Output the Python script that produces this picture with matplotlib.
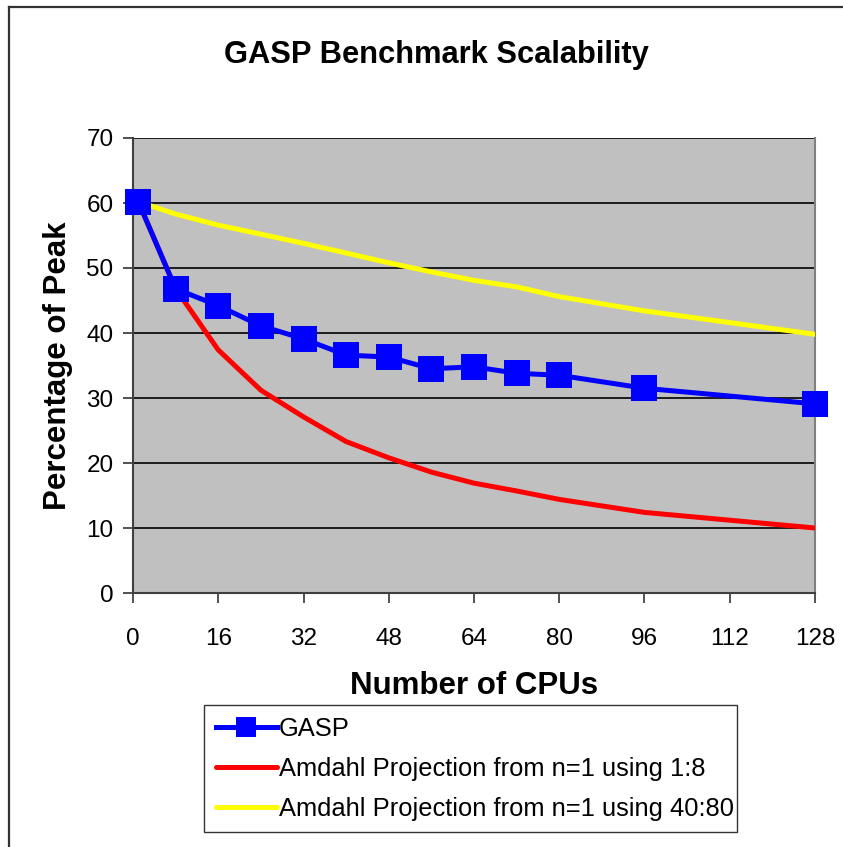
import matplotlib
matplotlib.use("Agg")
import matplotlib.pyplot as plt
from matplotlib.lines import Line2D

plt.rcParams['font.family'] = ['Liberation Sans', 'DejaVu Sans']

cpus = [1, 8, 16, 24, 32, 40, 48, 56, 64, 72, 80, 96, 128]
gasp = [60.2, 46.8, 44.2, 41.1, 39.1, 36.6, 36.3, 34.5, 34.8, 33.8, 33.5, 31.5, 29.1]
amdahl_1_8 = [60.2, 46.8, 37.4, 31.2, 27.1, 23.3, 20.8, 18.6, 16.9, 15.7, 14.4, 12.4, 10.0]
amdahl_40_80 = [60.2, 58.3, 56.6, 55.2, 53.8, 52.3, 50.8, 49.4, 48.1, 47.1, 45.6, 43.4, 39.8]
xticks = [0, 16, 32, 48, 64, 80, 96, 112, 128]
yticks = [0, 10, 20, 30, 40, 50, 60, 70]

W, H = 843, 847
fig = plt.figure(figsize=(W / 100, H / 100), dpi=100)
ax = fig.add_axes([133 / W, 1 - 593 / H, (815 - 133) / W, (593 - 138) / H])
ax.set_facecolor('#C0C0C0')

l1, = ax.plot(cpus, gasp, color='#0000FF', lw=3.6, marker='s', markersize=18.5,
              markeredgewidth=0, zorder=5, label='GASP', clip_on=False)
l2, = ax.plot(cpus, amdahl_1_8, color='#FF0000', lw=3.6, zorder=4,
              label='Amdahl Projection from n=1 using 1:8', solid_capstyle='round')
l3, = ax.plot(cpus, amdahl_40_80, color='#FFFF00', lw=3.6, zorder=3,
              label='Amdahl Projection from n=1 using 40:80', solid_capstyle='round')

ax.set_xlim(0, 128)
ax.set_ylim(0, 70)
ax.set_xticks(xticks)
ax.set_yticks(yticks)
ax.yaxis.grid(True, color='black', lw=1.2)
ax.set_axisbelow(True)
ax.tick_params(axis='both', labelsize=17.5, direction='out', length=7, width=1.2,
               colors='#333333', labelcolor='black')
ax.tick_params(axis='x', pad=18)
ax.tick_params(axis='y', pad=7)
for s in ['left', 'bottom']:
    ax.spines[s].set_color('#404040')
    ax.spines[s].set_linewidth(1.5)
ax.spines['top'].set_visible(False)
ax.spines['right'].set_color('#808080')
ax.spines['right'].set_linewidth(1.5)

ax.set_xlabel('Number of CPUs', fontsize=22.5, fontweight='bold', labelpad=15)
ax.set_ylabel('Percentage of Peak', fontsize=22.5, fontweight='bold', labelpad=10)
fig.text(436 / W, 1 - 55 / H, 'GASP Benchmark Scalability', ha='center', va='center',
         fontsize=22.2, fontweight='bold')

leg = fig.legend(handles=[l1, l2, l3], loc='lower left',
                 bbox_to_anchor=(204 / W, 1 - 832 / H, (737 - 204) / W, 0.15), mode='expand',
                 fontsize=18.4, frameon=True, fancybox=False, borderaxespad=0,
                 handlelength=2.4, handletextpad=0.08, labelspacing=0.62,
                 borderpad=0.45, markerscale=0.8)
leg._legend_box.align = 'left'
leg.get_frame().set_edgecolor('black')
leg.get_frame().set_linewidth(1.0)

# figure border (left and top only)
fig.add_artist(Line2D([9 / W, 9 / W], [0, 1 - 7 / H], transform=fig.transFigure,
                      color='#333333', lw=1.6))
fig.add_artist(Line2D([9 / W, 1], [1 - 7 / H, 1 - 7 / H], transform=fig.transFigure,
                      color='#333333', lw=1.6))

fig.savefig('out.png', dpi=100)
